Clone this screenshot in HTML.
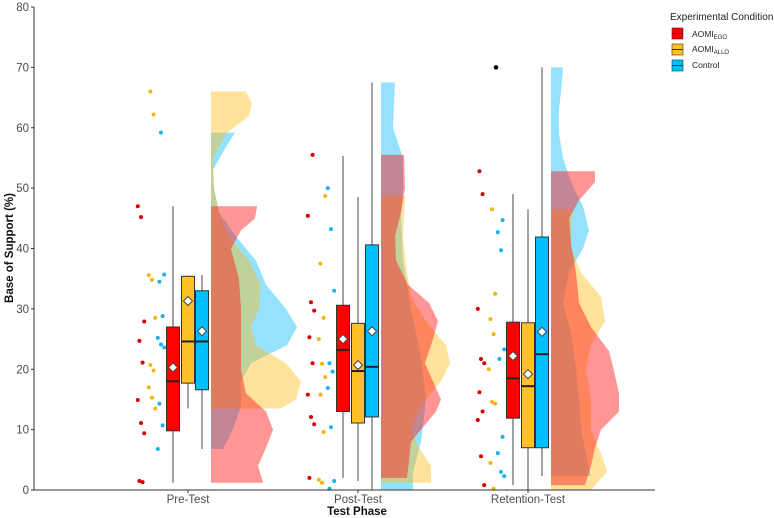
<!DOCTYPE html>
<html><head><meta charset="utf-8"><style>
body{margin:0;background:#fff;}
svg{display:block;font-family:"Liberation Sans",Arial,sans-serif;}
</style></head><body>
<svg id="chart" width="774" height="518" xmlns="http://www.w3.org/2000/svg">
<g id="dens"></g>
<g id="dots"></g>
<g id="boxes"></g>
<g id="axes"></g>
<g font-size="10" fill="#222">
<text x="670" y="20">Experimental Condition</text>
<g><rect x="672" y="28" width="11" height="11" fill="#ff0000" stroke="#333" stroke-width="0.6"/><line x1="672" y1="33.5" x2="683" y2="33.5" stroke="#333"/><text x="692" y="37" font-size="8.5">AOMI<tspan font-size="6" dy="2">EGO</tspan></text></g>
<g><rect x="672" y="44" width="11" height="11" fill="#ffc125" stroke="#333" stroke-width="0.6"/><line x1="672" y1="49.5" x2="683" y2="49.5" stroke="#333"/><text x="692" y="52" font-size="8.5">AOMI<tspan font-size="6" dy="2">ALLO</tspan></text></g>
<g><rect x="672" y="60" width="11" height="11" fill="#00bfff" stroke="#333" stroke-width="0.6"/><line x1="672" y1="65.5" x2="683" y2="65.5" stroke="#333"/><text x="692" y="68" font-size="8.5">Control</text></g>
</g>
</svg>
<script>
const phases=["Pre-Test","Post-Test","Retention-Test"];
const conds=["ego","allo","control"];
const yTicks=[0,10,20,30,40,50,60,70,80];
// box stats per phase: [lowWhisker,q1,median,q3,highWhisker,mean]
const egoBox=[[1.2,9.8,18,27,47,20.3],[2,13,23.2,30.6,55.3,25],[0.8,11.9,18.5,27.8,49,22.2]];
const alloBox=[[13.5,17.7,24.6,35.4,35.5,31.3],[1.5,11.1,19.7,27.6,48.5,20.7],[0,7,17.2,27.7,46.5,19.2]];
const ctrlBox=[[6.8,16.6,24.6,33,35.6,26.3],[0,12.1,20.4,40.6,67.5,26.3],[2.3,7,22.5,41.9,70,26.2]];
const outliers=[[2,70]];
// raw points
const egoPts=[[47,45.2,27.9,24.7,21.1,14.9,11.1,9.4,1.5,1.3],[55.5,45.4,31.1,29.7,25.3,21,15.8,12.1,10.9,2],[52.8,49,30,21.7,21,16.2,13,11.6,5.6,0.8]];
const alloPts=[[66,62.2,35.6,34.8,28.5,20.7,19.8,17,15.3,13.5],[48.7,37.5,28.5,25,20.9,18.7,15.8,9.6,1.7,1.2],[46.5,32.5,28.3,25.8,20,14.6,14.3,4.5,0.2]];
const ctrlPts=[[59.2,35.7,34.5,28.8,25.2,24.1,23.6,14.3,10.7,6.8],[50,43.2,33,21,19.6,16.9,10.4,1.5,0.2],[44.7,42.7,39.7,23.3,21.7,8.8,6.1,3,2.3]];
// density [value, relative density]
const egoDens=[
[[1.2,52],[4,47],[7,55],[10,62],[13,55],[16,35],[20,30],[25,30],[30,30],[35,28],[40,20],[43,30],[45,44],[47,46]],
[[2,26],[5,28],[8,30],[10,40],[13,55],[15,60],[18,52],[21,44],[25,52],[28,57],[31,48],[34,27],[38,15],[42,14],[46,20],[50,24],[55.5,23]],
[[0.8,34],[4,40],[7,44],[10,50],[13,68],[16,68],[19,64],[23,58],[27,40],[31,28],[36,25],[41,20],[45,18],[48,28],[51,44],[52.8,44]]];
const alloDens=[
[[13.5,70],[15,85],[18,90],[21,75],[24,45],[27,40],[30,48],[34,50],[38,38],[42,18],[46,8],[50,3],[55,2],[59,15],[62,38],[64,41],[66,35]],
[[1.2,50],[4,50],[7,38],[10,30],[14,40],[18,60],[21,69],[24,65],[28,45],[32,30],[37,25],[42,22],[48.7,24]],
[[0,40],[3,56],[6,50],[10,40],[15,40],[20,35],[24,40],[28,54],[32,50],[36,30],[40,20],[43,20],[46.5,22]]];
const ctrlDens=[
[[6.8,12],[10,22],[14,30],[18,30],[21,40],[24,76],[27,86],[30,75],[34,55],[38,45],[42,25],[46,8],[50,3],[53,2],[56,12],[59.2,24]],
[[0,32],[3,32],[8,40],[15,45],[22,40],[30,30],[38,22],[45,20],[50,22],[55,22],[60,12],[64,13],[67.5,14]],
[[2.3,40],[6,35],[10,30],[15,28],[20,25],[26,20],[31,12],[36,18],[40,32],[43,38],[47,32],[51,20],[55,12],[59,8],[63,8],[66,10],[70,12]]];

const NS="http://www.w3.org/2000/svg";
const y=v=>490-v*6.0375;
const x=i=>188+170*i;
const dScale=d=>d;
const boxFill=["#ff0000","#ffc125","#00bfff"];
const dotFill=["#d60000","#f2b411","#15b3ec"];
const densFill=["rgba(255,20,20,0.45)","rgba(255,185,20,0.42)","rgba(0,185,250,0.42)"];
const boxOff=[-15,0,14];
const dotOff=[-47,-36,-27];
function mk(tag,attrs,parent){const e=document.createElementNS(NS,tag);for(const k in attrs)e.setAttribute(k,attrs[k]);parent.appendChild(e);return e;}
const dens=document.getElementById('dens'),dots=document.getElementById('dots'),boxes=document.getElementById('boxes'),axes=document.getElementById('axes');
const allDens=[egoDens,alloDens,ctrlDens],allPts=[egoPts,alloPts,ctrlPts],allBox=[egoBox,alloBox,ctrlBox];
phases.forEach((p,i)=>{
  const base=x(i)+23;
  [2,1,0].forEach(c=>{
    const d=allDens[c][i];
    let pts=d.map(q=>(base+dScale(q[1]))+","+y(q[0]));
    pts.push(base+","+y(d[d.length-1][0]));pts.push(base+","+y(d[0][0]));
    const pg=mk('polygon',{points:pts.join(' '),fill:densFill[c]},dens);
    
    
  });
  [0,1,2].forEach(c=>{
    allPts[c][i].forEach((v,k)=>{
      const j=((k*7+i*3+c)%5-2)*1.6;
      const ci=mk('circle',{cx:x(i)+dotOff[c]+j,cy:y(v),r:2,fill:dotFill[c]},dots);
      
      
    });
  });
  [0,1,2].forEach(c=>{
    const b=allBox[c][i],cx=x(i)+boxOff[c];
    const g=mk('g',{},boxes);
    
    
    mk('line',{x1:cx,x2:cx,y1:y(b[0]),y2:y(b[4]),stroke:'#444','stroke-width':1},g);
    mk('rect',{x:cx-6.5,y:y(b[3]),width:13,height:y(b[1])-y(b[3]),fill:boxFill[c],stroke:'#333','stroke-width':1},g);
    mk('line',{x1:cx-6.5,x2:cx+6.5,y1:y(b[2]),y2:y(b[2]),stroke:'#222','stroke-width':2},g);
    const m=y(b[5]);
    mk('polygon',{points:`${cx},${m-4.5} ${cx+4.5},${m} ${cx},${m+4.5} ${cx-4.5},${m}`,fill:'#fff',stroke:'#444','stroke-width':1},g);
  });
});
outliers.forEach(o=>{const c=mk('circle',{cx:x(o[0])-32,cy:y(o[1]),r:2.3,fill:'#000'},dots);

});
mk('line',{x1:34,x2:34,y1:7,y2:490,stroke:'#333','stroke-width':1},axes);
mk('line',{x1:34,x2:655,y1:490,y2:490,stroke:'#333','stroke-width':1},axes);
yTicks.forEach(t=>{
  mk('line',{x1:31,x2:34,y1:y(t),y2:y(t),stroke:'#333'},axes);
  const tx=mk('text',{x:29,y:y(t)+4,'text-anchor':'end','font-size':11.5,fill:'#4d4d4d'},axes);
  tx.textContent=t;
  
  
});
phases.forEach((p,i)=>{
  mk('line',{x1:x(i),x2:x(i),y1:490,y2:493,stroke:'#333'},axes);
  const tx=mk('text',{x:x(i),y:503,'text-anchor':'middle','font-size':11.5,fill:'#4d4d4d'},axes);
  tx.textContent=p;
  
  
});
const xt=mk('text',{x:357,y:515,'text-anchor':'middle','font-size':11.5,'font-weight':'bold',fill:'#111'},axes);
xt.textContent='Test Phase';


const yt=mk('text',{x:0,y:0,transform:'translate(13,248) rotate(-90)','text-anchor':'middle','font-size':11.5,'font-weight':'bold',fill:'#111'},axes);
yt.textContent='Base of Support (%)';


</script>
</body></html>
